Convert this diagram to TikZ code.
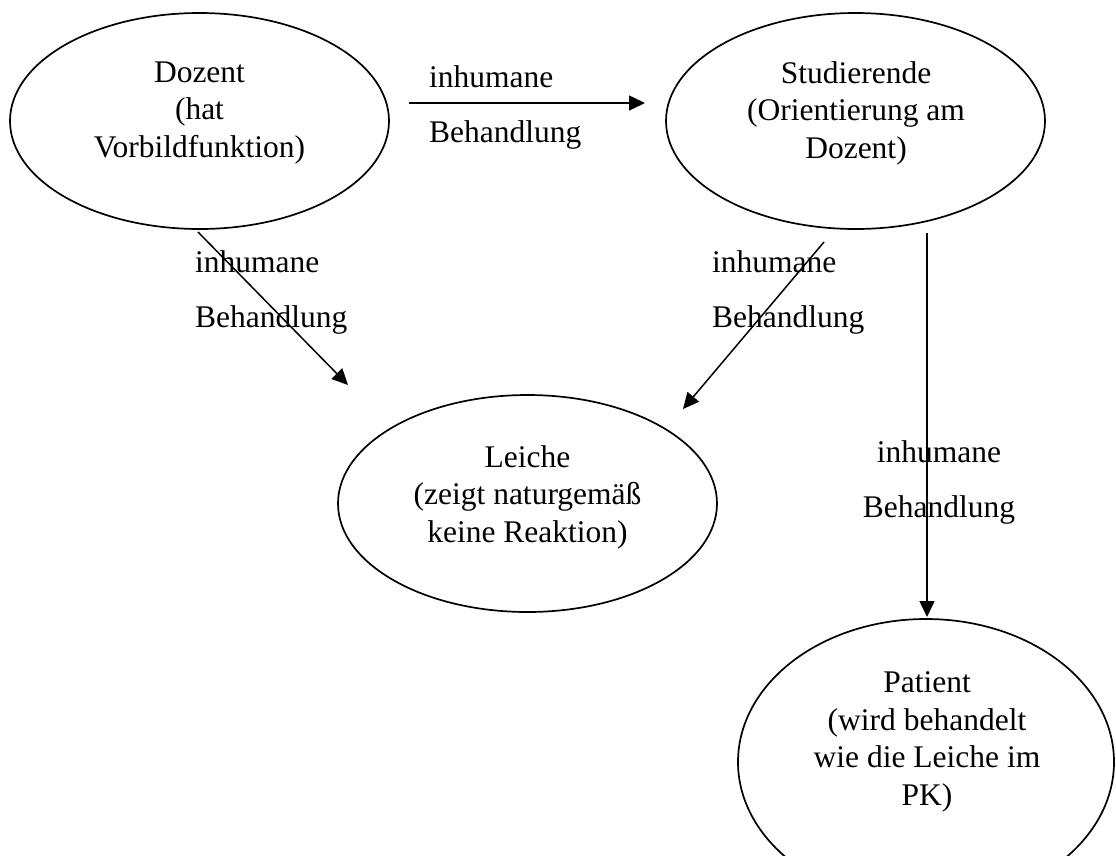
\documentclass[tikz,border=0pt]{standalone}
\usepackage{fontspec}
\setmainfont{Liberation Serif}
\usetikzlibrary{shapes.geometric,arrows.meta}
\begin{document}
\begin{tikzpicture}[x=1pt,y=-1pt,
  every node/.style={font=\fontsize{31.5}{37.5}\selectfont},
  oval/.style={ellipse,draw,line width=1.7pt,inner sep=0pt},
  txt/.style={align=center,inner sep=0pt},
  lbl/.style={inner sep=0pt,anchor=base west},
  lblc/.style={inner sep=0pt,anchor=base},
  arr/.style={line width=1.5pt,-{Triangle[length=16pt,width=15pt]}}]
\useasboundingbox (0,0) rectangle (1116,855);
\clip (0,0) rectangle (1116,855);
\fill[white] (0,0) rectangle (1116,855);
% ellipses
\node[oval,minimum width=379pt,minimum height=216pt] (doz) at (199.5,121) {};
\node[oval,minimum width=379pt,minimum height=216pt] (stu) at (855.5,121) {};
\node[oval,minimum width=379pt,minimum height=217pt] (lei) at (527.5,503.5) {};
\node[oval,minimum width=376pt,minimum height=286pt] (pat) at (926,762) {};
% texts
\node[txt] (dozT) at (199.5,113) {Dozent\\(hat\\Vorbildfunktion)};
\node[txt] (stuT) at (856,113) {Studierende\\(Orientierung am\\Dozent)};
\node[txt] (leiT) at (527.5,497) {Leiche\\(zeigt naturgemäß\\keine Reaktion)};
\node[txt] (patT) at (927,742) {Patient\\(wird behandelt\\wie die Leiche im\\PK)};
% connector end points
\coordinate (h1) at (409,103);
\coordinate (h2) at (645,103);
\coordinate (d1) at (198,232);
\coordinate (d2) at (348,385);
\coordinate (s1) at (824,242);
\coordinate (s2) at (683,409);
\coordinate (v1) at (927,233);
\coordinate (v2) at (927,617);
\draw[arr] (h1) -- (h2);
\draw[arr] (d1) -- (d2);
\draw[arr] (s1) -- (s2);
\draw[arr] (v1) -- (v2);
% labels
\node[lbl] (l1a) at (429,87) {inhumane};
\node[lbl] (l1b) at (429,142) {Behandlung};
\node[lbl] (l2a) at (195,272) {inhumane};
\node[lbl] (l2b) at (195,327) {Behandlung};
\node[lbl] (l3a) at (712,272) {inhumane};
\node[lbl] (l3b) at (712,327) {Behandlung};
\node[lblc] (l4a) at (939,462) {inhumane};
\node[lblc] (l4b) at (939,517) {Behandlung};
\end{tikzpicture}
\end{document}
